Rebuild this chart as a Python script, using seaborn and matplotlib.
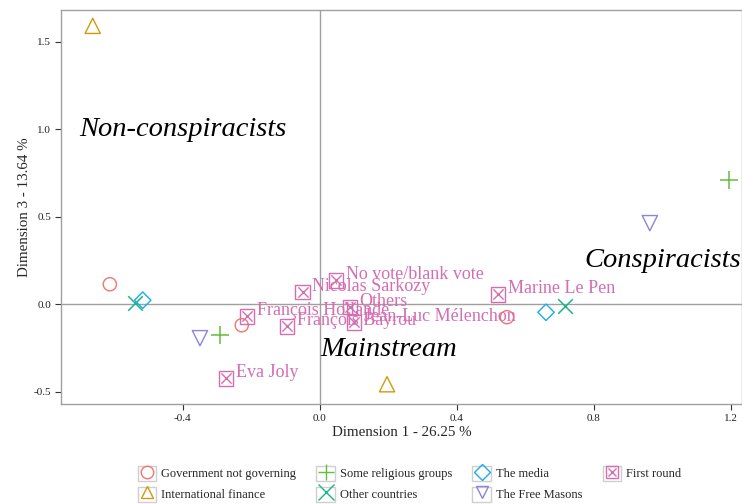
import matplotlib
matplotlib.use("Agg")
import matplotlib.pyplot as plt
from matplotlib.lines import Line2D
from matplotlib.patches import Rectangle
from matplotlib.legend_handler import HandlerTuple
import seaborn as sns

# Modalities of the supplementary questions (coordinates on dims 1 and 3)
categorias = ["Government not governing", "International finance",
              "Some religious groups", "Other countries",
              "The media", "The Free Masons"]
pontos_cat = ["Government not governing", "Government not governing", "Government not governing",
              "International finance", "International finance",
              "Some religious groups", "Some religious groups",
              "Other countries", "Other countries",
              "The media", "The media",
              "The Free Masons", "The Free Masons"]
pontos_x = [-0.613, -0.228, 0.546,
            -0.663, 0.196,
            -0.292, 1.194,
            -0.540, 0.715,
            -0.517, 0.660,
            -0.350, 0.963]
pontos_y = [0.114, -0.120, -0.074,
            1.590, -0.457,
            -0.177, 0.709,
            0.006, -0.011,
            0.023, -0.046,
            -0.194, 0.463]

# First round vote
candidatos = ["Eva Joly", "François Hollande", "François Bayrou", "Nicolas Sarkozy",
              "No vote/blank vote", "Others", "Jean-Luc Mélenchon", "Marine Le Pen"]
cand_x = [-0.274, -0.213, -0.096, -0.050, 0.047, 0.088, 0.099, 0.520]
cand_y = [-0.423, -0.069, -0.126, 0.069, 0.137, -0.017, -0.103, 0.057]

# Zone annotations
zonas = ["Non-conspiracists", "Conspiracists", "Mainstream"]
zonas_x = [-0.40, 1.00, 0.20]
zonas_y = [1.00, 0.25, -0.26]

cores = {"Government not governing": "#F2766D",
         "International finance": "#CF9B0C",
         "Some religious groups": "#62BE3C",
         "Other countries": "#1DB58A",
         "The media": "#19ADEA",
         "The Free Masons": "#8C84D8",
         "First round": "#D56DB2"}
marcadores = {"Government not governing": "o",
              "International finance": "^",
              "Some religious groups": "+",
              "Other countries": "x",
              "The media": "D",
              "The Free Masons": "v"}
tamanhos = {"o": 90, "^": 120, "+": 180, "x": 110, "D": 70, "v": 120}

sns.set_theme(style="white")
plt.rcParams["font.family"] = ["Liberation Serif", "DejaVu Serif"]

fig = plt.figure(figsize=(7.42, 5.04), dpi=100)
ax = fig.add_axes([0.082, 0.198, 0.918, 0.782])

ax.axhline(0, color="#a0a0a0", lw=1, zorder=0)
ax.axvline(0, color="#a0a0a0", lw=1, zorder=0)

for cat in categorias:
    xs = [x for x, c in zip(pontos_x, pontos_cat) if c == cat]
    ys = [y for y, c in zip(pontos_y, pontos_cat) if c == cat]
    m = marcadores[cat]
    if m in ("+", "x"):
        sns.scatterplot(x=xs, y=ys, marker=m, color=cores[cat], s=tamanhos[m],
                        linewidth=1.1, ax=ax, zorder=3)
    else:
        sns.scatterplot(x=xs, y=ys, marker=m, color=cores[cat], facecolors="none",
                        edgecolor=cores[cat], s=tamanhos[m], linewidth=1.0, ax=ax, zorder=3)

cor_fr = cores["First round"]
sns.scatterplot(x=cand_x, y=cand_y, marker="s", color=cor_fr, facecolors="none",
                edgecolor=cor_fr, s=110, linewidth=1.0, ax=ax, zorder=3)
sns.scatterplot(x=cand_x, y=cand_y, marker="x", color=cor_fr, s=55,
                linewidth=1.0, ax=ax, zorder=3)
for nome, x, y in zip(candidatos, cand_x, cand_y):
    ax.annotate(nome, (x, y), xytext=(7, 4), textcoords="offset points",
                ha="left", va="center", fontsize=13, color=cor_fr, zorder=4)

for txt, x, y in zip(zonas, zonas_x, zonas_y):
    ax.text(x, y, txt, ha="center", va="center", fontsize=20.5, style="italic", color="black")

ax.set_xlim(-0.756, 1.232)
ax.set_ylim(-0.571, 1.68)
ax.set_xticks([-0.4, 0.0, 0.4, 0.8, 1.2])
ax.set_xticklabels(["-0.4", "0.0", "0.4", "0.8", "1.2"])
ax.set_yticks([-0.5, 0.0, 0.5, 1.0, 1.5])
ax.set_yticklabels(["-0.5", "0.0", "0.5", "1.0", "1.5"])
ax.tick_params(axis="both", which="major", direction="out", length=4, width=0.8,
               color="#333333", labelsize=8, labelcolor="#222222", bottom=True, left=True, pad=3)
for sp in ax.spines.values():
    sp.set_color("#a0a0a0")
    sp.set_linewidth(1.0)
ax.set_xlabel("Dimension 1 - 26.25 %", fontsize=10.8, labelpad=2)
ax.set_ylabel("Dimension 3 - 13.64 %", fontsize=10.8, labelpad=2)

# Legend with a grey box around each key
def caixa():
    return Rectangle((0, 0), 1, 1, facecolor="white", edgecolor="#cfcfcf", lw=1)

handles, labels = [], []
for cat in categorias:
    m = marcadores[cat]
    if m in ("+", "x"):
        ln = Line2D([], [], marker=m, color=cores[cat], linestyle="none", markersize=11,
                    markeredgewidth=1.0)
    else:
        ln = Line2D([], [], marker=m, color=cores[cat], markerfacecolor="none", linestyle="none",
                    markersize=9 if m != "D" else 8, markeredgewidth=1.0)
    handles.append((caixa(), ln))
    labels.append(cat)
handles.append((caixa(),
                Line2D([], [], marker="s", color=cor_fr, markerfacecolor="none", linestyle="none",
                       markersize=9, markeredgewidth=1.0),
                Line2D([], [], marker="x", color=cor_fr, linestyle="none", markersize=6,
                       markeredgewidth=1.0)))
labels.append("First round")

fig.legend(handles, labels, ncol=4, loc="lower center", bbox_to_anchor=(0.552, -0.018),
           frameon=False, fontsize=9, handlelength=1.5, handleheight=1.5, handletextpad=0.4,
           columnspacing=1.6, labelspacing=0.45,
           handler_map={tuple: HandlerTuple(ndivide=1, pad=0)})

fig.savefig("out.png", dpi=100)
